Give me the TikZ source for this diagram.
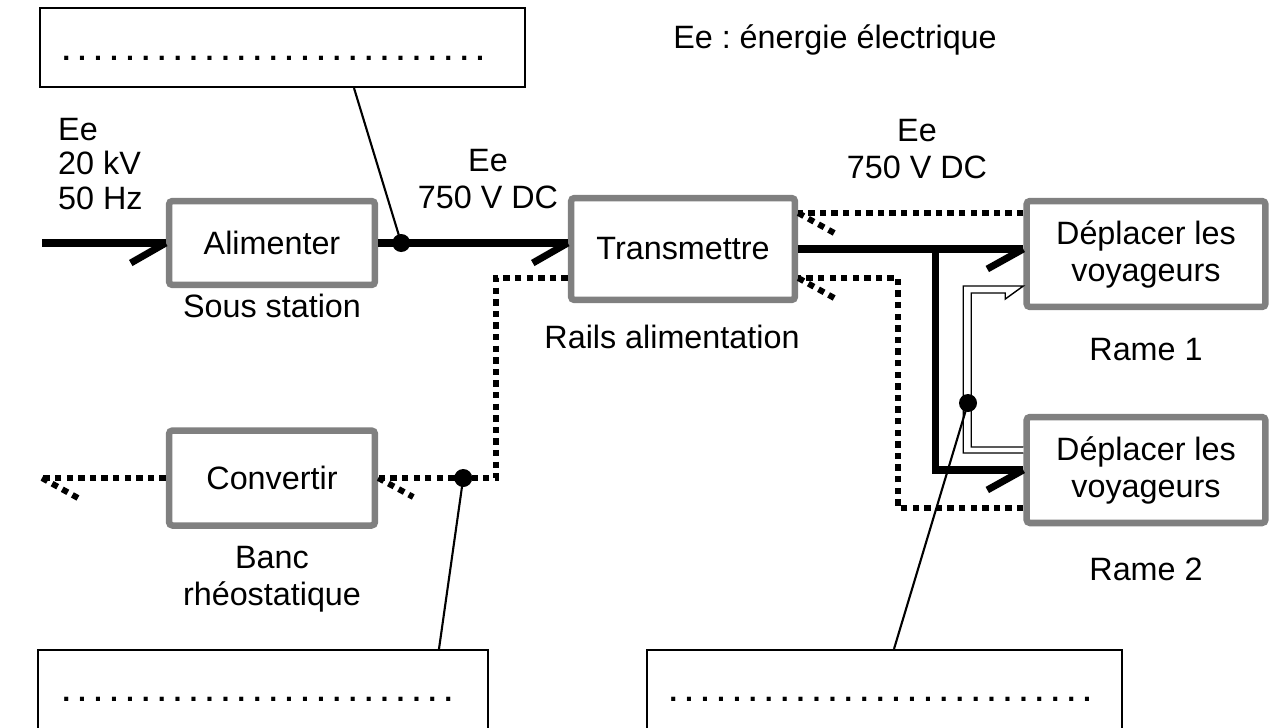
\documentclass[tikz,border=0pt]{standalone}
\usepackage{fontspec}
\setmainfont{Liberation Sans}
\usetikzlibrary{positioning,calc}
\frenchspacing

\begin{document}
\begin{tikzpicture}[x=0.02cm,y=-0.02cm,
  font=\fontsize{18.4}{21}\selectfont,
  fn/.style={draw=gray,line width=3.7pt,rounded corners=2pt,fill=white,align=center,inner sep=0pt},
  rep/.style={draw,line width=1.2pt,inner sep=0pt},
  pts/.style={font=\fontsize{16.3}{20}\selectfont\bfseries,anchor=base west,inner sep=0pt},
  lbl/.style={align=center},
  ee/.style={line width=4pt},
  eedot/.style={line width=3.4pt,dash pattern=on 3.6pt off 3pt},
  lead/.style={line width=1.2pt},
  jn/.style={circle,fill,inner sep=0pt,minimum size=0.36cm}
]
  \useasboundingbox (0,0) rectangle (1270,727);

  % fonctions
  \node[fn,minimum width=4.12cm,minimum height=1.68cm] (alim)  at (272,243) {Alimenter};
  \node[fn,minimum width=4.48cm,minimum height=2.04cm] (trans) at (683,249) {Transmettre};
  \node[fn,minimum width=4.12cm,minimum height=1.9cm]  (conv)  at (272,478) {Convertir};
  \node[fn,minimum width=4.78cm,minimum height=2.12cm] (r1)    at (1146,254) {Déplacer les\\voyageurs};
  \node[fn,minimum width=4.78cm,minimum height=2.12cm] (r2)    at (1146,470) {Déplacer les\\voyageurs};

  % cadres a completer
  \node[rep,minimum width=9.7cm,minimum height=1.58cm] (q1) at (282.5,47.5) {};
  \node[rep,minimum width=9cm,minimum height=2.2cm]    (q2) at (263,705) {};
  \node[rep,minimum width=9.5cm,minimum height=2.2cm]  (q3) at (884.5,705) {};
  \node[pts] (q1pts) at ($(q1.south west)+(23,-28)$) {. . . . . . . . . . . . . . . . . . . . . . . . . . .};
  \node[pts] (q2pts) at ($(q2.north west)+(25,53)$) {. . . . . . . . . . . . . . . . . . . . . . . . .};
  \node[pts] (q3pts) at ($(q3.north west)+(23,53)$) {. . . . . . . . . . . . . . . . . . . . . . . . . . .};

  % textes
  \node[lbl] (leg) at (835,40) {Ee : énergie électrique};
  \node[lbl,align=left,anchor=west,font=\fontsize{18.4}{19.5}\selectfont] (ein) at (52,164) {Ee\\20 kV\\50 Hz};
  \node[lbl] (e1) at (488,179) {Ee\\750 V DC};
  \node[lbl] (e2) at (917,149) {Ee\\750 V DC};
  \node[lbl] (sst)  at (272,306) {Sous station};
  \node[lbl] (rail) at (672,337) {Rails alimentation};
  \node[lbl] (ban)  at (272,579) {Banc\\rhéostatique};
  \node[lbl] (ra1)  at (1146,350) {Rame 1};
  \node[lbl] (ra2)  at (1146,569) {Rame 2};

  % energie electrique
  \coordinate (in) at (42,243);
  \draw[ee] (in) -- (alim.west);
  \draw[ee] (alim.west) -- ++(-35,20);
  \draw[ee] (alim.east) -- (alim.east -| trans.west);
  \draw[ee] (alim.east -| trans.west) -- ++(-35,20);
  \draw[ee] (trans.east) -- (r1.west |- trans.east);
  \draw[ee] (r1.west |- trans.east) -- ++(-36,20);
  \coordinate (br) at ($(trans.east)+(137,0)$);
  \draw[ee] (br) |- (r2.west);
  \draw[ee] (r2.west) -- ++(-36,20);

  % freinage
  \coordinate (t1) at ($(trans.east)+(0,-36)$);
  \coordinate (t2) at ($(trans.east)+(0,29)$);
  \coordinate (t3) at ($(trans.west)+(0,29)$);
  \draw[eedot] (t1 -| r1.west) -- (t1);
  \draw[eedot] (t1) -- ++(36,20);
  \draw[eedot] ($(r2.west)+(0,38)$) -| ($(t2)+(100,0)$) -- (t2);
  \draw[eedot] (t2) -- ++(36,20);
  \draw[eedot] (t3) -| ($(conv.east)+(118,0)$) -- (conv.east);
  \draw[eedot] (conv.east) -- ++(35,19);
  \coordinate (out) at (42,478);
  \draw[eedot] (conv.west) -- (out);
  \draw[eedot] (out) -- ++(36,20);

  % fleche creuse
  \draw[line width=0.8pt,fill=white] ($(r2.west)+(0,-17)$) -- ++(-60,0) |- ($(r1.west)+(0,32)$)
    -- ($(r1.west)+(-18,45)$) -- ++(0,-6) -| ($(r2.west)+(-52,-23)$) -- ($(r2.west)+(0,-23)$);

  % points et renvois
  \node[jn] (j1) at ($(alim.east)+(23,0)$) {};
  \node[jn] (j2) at ($(conv.east)+(85,0)$) {};
  \node[jn] (j3) at (968,403) {};
  \draw[lead] (j1.center) -- ($(q1.south west)+(315,0)$);
  \draw[lead] (j2.center) -- ($(q2.north west)+(402,0)$);
  \draw[lead] (j3.center) -- ($(q3.north west)+(248,0)$);
\end{tikzpicture}
\end{document}
